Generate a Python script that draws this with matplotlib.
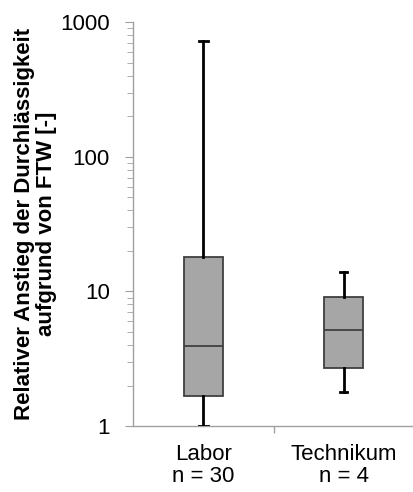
import matplotlib.pyplot as plt
from matplotlib.ticker import FixedLocator, NullFormatter, LogLocator

plt.rcParams['font.family'] = ['Liberation Sans', 'DejaVu Sans']

labels = ["Labor\nn = 30", "Technikum\nn = 4"]
whisker_low = [1.0, 1.8]
q1 = [1.67, 2.7]
median = [3.9, 5.2]
q3 = [18.0, 9.1]
whisker_high = [720, 14.0]

stats = []
for i in range(len(labels)):
    stats.append({
        "whislo": whisker_low[i], "q1": q1[i], "med": median[i],
        "q3": q3[i], "whishi": whisker_high[i], "fliers": [],
    })

fig = plt.figure(figsize=(4.14, 4.92), dpi=100)
ax = fig.add_axes([0.322, 0.134, 0.678, 0.821])

ax.bxp(stats, positions=[1, 2], widths=0.28, patch_artist=True,
       showfliers=False, capwidths=[0.07, 0.05],
       boxprops=dict(facecolor="#a6a6a6", edgecolor="#404040", linewidth=1.3),
       medianprops=dict(color="#404040", linewidth=1.3),
       whiskerprops=dict(color="black", linewidth=2),
       capprops=dict(color="black", linewidth=2))

ax.set_yscale("log")
ax.set_ylim(1, 1000)
ax.set_xlim(0.5, 2.5)
ax.set_yticks([1, 10, 100, 1000])
ax.set_yticklabels(["1", "10", "100", "1000"])
ax.yaxis.set_minor_locator(LogLocator(base=10, subs=range(2, 10)))
ax.yaxis.set_minor_formatter(NullFormatter())

ax.set_xticks([1, 2])
ax.set_xticklabels(labels, fontsize=16, linespacing=1.05)
ax.xaxis.set_minor_locator(FixedLocator([1.5]))
ax.tick_params(axis="x", which="major", length=0, pad=13)
ax.tick_params(axis="x", which="minor", length=5, color="#a0a0a0", width=1)
ax.tick_params(axis="y", which="major", length=6, color="#a0a0a0", labelsize=16, pad=11)
ax.tick_params(axis="y", which="minor", length=4, color="#a0a0a0")

for s in ["top", "right"]:
    ax.spines[s].set_visible(False)
for s in ["left", "bottom"]:
    ax.spines[s].set_color("#a0a0a0")
    ax.spines[s].set_linewidth(1)
    ax.spines[s].set_zorder(0)

ax.set_ylabel("Relativer Anstieg der Durchlässigkeit\naufgrund von FTW [-]",
              fontsize=16, fontweight="bold", labelpad=2, linespacing=1.05)

fig.savefig("out.png", dpi=100)
